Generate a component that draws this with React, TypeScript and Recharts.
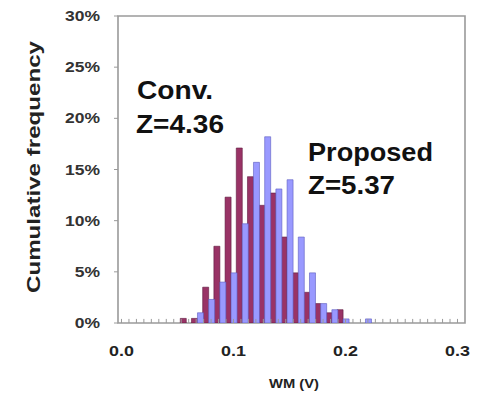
import { BarChart, Bar, XAxis, YAxis, ReferenceArea, ReferenceLine } from "recharts";

// bin centres (V) and the share of chips in each bin (%)
const bins = [
  0.0575, 0.0675, 0.0775, 0.0875, 0.0975, 0.1075, 0.1175, 0.1275, 0.1375,
  0.1475, 0.1575, 0.1675, 0.1775, 0.1875, 0.1975, 0.2075, 0.2175,
];
const convPct = [0.45, 0.45, 3.5, 7.5, 12.3, 17.1, 14.3, 11.5, 12.7, 8.4, 4.9, 3.0, 1.9, 1.0, 1.3, 0, 0];
const proposedPct = [0, 1.0, 2.3, 4.0, 4.9, 9.7, 15.7, 18.2, 13.1, 14.0, 8.4, 4.9, 1.9, 1.3, 0.4, 0, 0.4];

const yTicks = [0, 5, 10, 15, 20, 25, 30];
const xTicks = [0, 0.1, 0.2, 0.3];
const xMinorTicks = Array.from({ length: 46 }, (_, k) => k / 150);

const X_DOMAIN: [number, number] = [-0.0031, 0.3067];
const FONT = "'Liberation Sans', Arial, sans-serif";
const AXIS_GRAY = "#9a9a9a";

const data = bins.map((b, i) => ({ bin: b, conv: convPct[i], proposed: proposedPct[i] }));

function XTick({ x, y, payload }: any) {
  return (
    <g transform={`translate(${x},${y})`}>
      <text
        transform="scale(1.28,1)"
        textAnchor="middle"
        dy={33}
        fontFamily={FONT}
        fontWeight="bold"
        fontSize={14}
        fill="#222"
      >
        {payload.value.toFixed(1)}
      </text>
    </g>
  );
}

function YTick({ x, y, payload }: any) {
  return (
    <g transform={`translate(${x},${y})`}>
      <text
        transform="scale(1.25,1)"
        textAnchor="end"
        dy="0.36em"
        fontFamily={FONT}
        fontWeight="bold"
        fontSize={14}
        fill="#333"
      >
        {payload.value}%
      </text>
    </g>
  );
}

export default function App() {
  const note = { fontFamily: FONT, fontWeight: "bold" as const, fontSize: 25, fill: "#111" };
  return (
    <div style={{ position: "absolute", left: 0, top: 0, width: 477, height: 395, background: "#fff" }}>
      <BarChart
        width={477}
        height={395}
        data={data}
        margin={{ top: 16, right: 12, bottom: 0, left: 0 }}
        barGap={0}
        barCategoryGap={0}
      >
        <XAxis
          dataKey="bin"
          type="number"
          domain={X_DOMAIN}
          ticks={xTicks}
          interval={0}
          height={72}
          axisLine={false}
          tickSize={0}
          tickMargin={0}
          tickLine={false}
          tick={<XTick />}
          allowDataOverflow
        />
        <YAxis
          domain={[0, 30]}
          ticks={yTicks}
          interval={0}
          width={118}
          axisLine={false}
          tickSize={4}
          tickMargin={14}
          tickLine={{ stroke: AXIS_GRAY }}
          tick={<YTick />}
          allowDataOverflow
        />
        {xMinorTicks.map((v) => (
          <ReferenceLine
            key={v}
            segment={[{ x: v, y: 0 }, { x: v, y: 0.4 }]}
            stroke={AXIS_GRAY}
            strokeWidth={1}
            ifOverflow="visible"
          />
        ))}
        <Bar dataKey="conv" fill="#993366" stroke="#5e1a3e" strokeWidth={0.6} isAnimationActive={false} />
        <Bar dataKey="proposed" fill="#9999ff" stroke="#5c5cc0" strokeWidth={0.6} isAnimationActive={false} />
        <ReferenceArea
          x1={X_DOMAIN[0]}
          x2={X_DOMAIN[1]}
          y1={0}
          y2={30}
          fill="none"
          fillOpacity={0}
          stroke={AXIS_GRAY}
          strokeWidth={1.6}
          strokeOpacity={1}
        />
      </BarChart>
      <svg width={477} height={395} style={{ position: "absolute", left: 0, top: 0, pointerEvents: "none" }}>
        <text x={137} y={99} textLength={76} lengthAdjust="spacingAndGlyphs" {...note}>Conv.</text>
        <text x={136} y={133} textLength={88} lengthAdjust="spacingAndGlyphs" {...note}>Z=4.36</text>
        <text x={308} y={161} textLength={125} lengthAdjust="spacingAndGlyphs" {...note}>Proposed</text>
        <text x={308} y={194} textLength={87} lengthAdjust="spacingAndGlyphs" {...note}>Z=5.37</text>
        <text
          x={294}
          y={388}
          textAnchor="middle"
          textLength={50}
          lengthAdjust="spacingAndGlyphs"
          fontFamily={FONT}
          fontWeight="bold"
          fontSize={13}
          fill="#222"
        >
          WM (V)
        </text>
        <text
          transform="translate(40,167) rotate(-90)"
          textAnchor="middle"
          textLength={252}
          lengthAdjust="spacingAndGlyphs"
          fontFamily={FONT}
          fontWeight="bold"
          fontSize={18}
          fill="#222"
        >
          Cumulative frequency
        </text>
      </svg>
    </div>
  );
}
